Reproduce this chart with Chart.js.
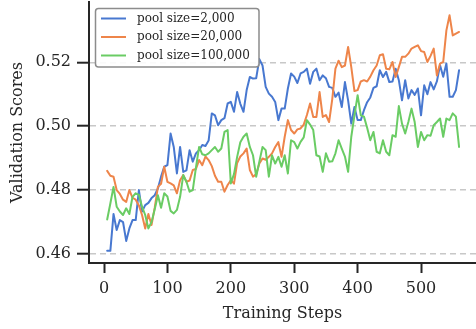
<!DOCTYPE html>
<html>
<head>
<meta charset="utf-8">
<script src="https://cdn.jsdelivr.net/npm/chart.js@4.4.1/dist/chart.umd.min.js"></script>
<style>
  html, body { margin: 0; padding: 0; background: #ffffff; }
  #wrap { width: 476px; height: 329px; position: relative; }
</style>
</head>
<body>
<div id="wrap"><canvas id="c" width="476" height="329"></canvas></div>
<script>
const steps = [5,10,15,20,25,30,35,40,45,50,55,60,65,70,75,80,85,90,95,100,
  105,110,115,120,125,130,135,140,145,150,155,160,165,170,175,180,185,190,195,200,
  205,210,215,220,225,230,235,240,245,250,255,260,265,270,275,280,285,290,295,300,
  305,310,315,320,325,330,335,340,345,350,355,360,365,370,375,380,385,390,395,400,
  405,410,415,420,425,430,435,440,445,450,455,460,465,470,475,480,485,490,495,500,
  505,510,515,520,525,530,535,540,545,550,555,560];

const pool2k = [0.4610,0.4610,0.4725,0.4675,0.4706,0.4700,0.4641,0.4680,0.4706,0.4706,
  0.4800,0.4733,0.4753,0.4760,0.4775,0.4784,0.4805,0.4842,0.4873,0.4878,
  0.4977,0.4935,0.4852,0.4935,0.4857,0.4862,0.4925,0.4889,0.4915,0.4925,
  0.4941,0.4938,0.4955,0.5040,0.5034,0.5003,0.5019,0.5025,0.5071,0.5076,
  0.5045,0.5107,0.5070,0.5045,0.5113,0.5154,0.5149,0.5150,0.5210,0.5190,
  0.5123,0.5102,0.5092,0.5076,0.5019,0.5055,0.5055,0.5118,0.5165,0.5155,
  0.5135,0.5165,0.5170,0.5180,0.5133,0.5170,0.5180,0.5144,0.5159,0.5150,
  0.5123,0.5120,0.5092,0.5105,0.5060,0.5138,0.5081,0.5008,0.5060,0.5019,
  0.5019,0.5050,0.5075,0.5090,0.5120,0.5125,0.5175,0.5154,0.5170,0.5138,
  0.5140,0.5180,0.5144,0.5081,0.5144,0.5087,0.5113,0.5098,0.5118,0.5034,
  0.5128,0.5100,0.5138,0.5115,0.5140,0.5191,0.5155,0.5196,0.5092,0.5092,
  0.5113,0.5175];

const pool20k = [0.4860,0.4845,0.4842,0.4800,0.4788,0.4770,0.4763,0.4800,0.4776,0.4770,
  0.4752,0.4722,0.4680,0.4725,0.4691,0.4745,0.4810,0.4820,0.4873,0.4826,
  0.4821,0.4815,0.4790,0.4831,0.4847,0.4826,0.4830,0.4863,0.4866,0.4894,
  0.4878,0.4905,0.4894,0.4875,0.4845,0.4826,0.4826,0.4795,0.4816,0.4831,
  0.4820,0.4885,0.4905,0.4915,0.4930,0.4863,0.4842,0.4850,0.4883,0.4899,
  0.4895,0.4904,0.4915,0.4935,0.4950,0.4904,0.4967,0.5019,0.4988,0.4977,
  0.4990,0.4993,0.5005,0.5035,0.5071,0.5029,0.5029,0.5107,0.5029,0.5035,
  0.5013,0.5085,0.5180,0.5205,0.5185,0.5190,0.5248,0.5185,0.5110,0.5113,
  0.5140,0.5144,0.5140,0.5155,0.5175,0.5190,0.5222,0.5225,0.5180,0.5178,
  0.5201,0.5154,0.5185,0.5217,0.5217,0.5227,0.5243,0.5248,0.5253,0.5235,
  0.5232,0.5201,0.5220,0.5243,0.5159,0.5196,0.5201,0.5300,0.5347,0.5284,
  0.5290,0.5295];

const pool100k = [0.4708,0.4758,0.4810,0.4748,0.4733,0.4722,0.4743,0.4725,0.4779,0.4790,
  0.4785,0.4748,0.4722,0.4680,0.4700,0.4740,0.4784,0.4745,0.4790,0.4780,
  0.4735,0.4727,0.4738,0.4779,0.4847,0.4826,0.4795,0.4800,0.4870,0.4935,
  0.4912,0.4909,0.4915,0.4925,0.4935,0.4920,0.4930,0.4982,0.4988,0.4821,
  0.4850,0.4904,0.4950,0.4967,0.4977,0.4935,0.4909,0.4842,0.4889,0.4935,
  0.4925,0.4842,0.4909,0.4883,0.4904,0.4873,0.4909,0.4852,0.4956,0.4950,
  0.4930,0.4951,0.4965,0.5019,0.5005,0.4988,0.4909,0.4905,0.4857,0.4915,
  0.4889,0.4890,0.4915,0.4956,0.4930,0.4905,0.4857,0.4967,0.5034,0.5097,
  0.5034,0.5030,0.4995,0.4956,0.4982,0.4920,0.4915,0.4956,0.4920,0.4909,
  0.4972,0.4967,0.5063,0.5008,0.4977,0.5013,0.5055,0.5013,0.4935,0.4982,
  0.4956,0.4972,0.4970,0.5003,0.5013,0.5024,0.4967,0.5024,0.5019,0.5040,
  0.5030,0.4935];

const seriesLabels = ['pool size=2,000', 'pool size=20,000', 'pool size=100,000'];
const seriesColors = ['#4878d0', '#ee854a', '#6acc64'];
const xTicks = [0, 100, 200, 300, 400, 500];
const yTicks = [0.46, 0.48, 0.50, 0.52];

const FONT = "'DejaVu Serif', 'Liberation Serif', serif";
const INK = '#262626';

const toPts = vals => vals.map((v, i) => ({ x: steps[i], y: v }));
const allSeries = [pool2k, pool20k, pool100k];

const legendBox = {
  id: 'legendBox',
  afterDatasetsDraw(chart) {
    const ctx = chart.ctx;
    ctx.save();
    const x0 = 95.5, y0 = 8.5, x1 = 259, y1 = 67;
    const r = 3;
    ctx.beginPath();
    ctx.moveTo(x0 + r, y0);
    ctx.lineTo(x1 - r, y0); ctx.quadraticCurveTo(x1, y0, x1, y0 + r);
    ctx.lineTo(x1, y1 - r); ctx.quadraticCurveTo(x1, y1, x1 - r, y1);
    ctx.lineTo(x0 + r, y1); ctx.quadraticCurveTo(x0, y1, x0, y1 - r);
    ctx.lineTo(x0, y0 + r); ctx.quadraticCurveTo(x0, y0, x0 + r, y0);
    ctx.closePath();
    ctx.fillStyle = 'rgba(255,255,255,0.9)';
    ctx.fill();
    ctx.lineWidth = 1.5;
    ctx.strokeStyle = '#8c8c8c';
    ctx.stroke();
    chart.data.datasets.forEach((ds, i) => {
      const y = 18.5 + i * 18.5;
      ctx.beginPath();
      ctx.moveTo(101, y); ctx.lineTo(126, y);
      ctx.lineWidth = 2;
      ctx.strokeStyle = ds.borderColor;
      ctx.stroke();
      ctx.fillStyle = INK;
      ctx.font = "12px " + FONT;
      ctx.textBaseline = 'middle';
      ctx.textAlign = 'left';
      ctx.fillText(ds.label, 137, y);
    });
    ctx.restore();
  }
};

new Chart(document.getElementById('c'), {
  type: 'line',
  data: {
    datasets: allSeries.map((vals, i) => ({
      label: seriesLabels[i],
      data: toPts(vals),
      borderColor: seriesColors[i],
      backgroundColor: seriesColors[i],
      borderWidth: 2,
      pointRadius: 0,
      tension: 0,
      borderJoinStyle: 'round',
      borderCapStyle: 'round',
      order: 2 - i
    }))
  },
  options: {
    responsive: false,
    animation: false,
    devicePixelRatio: 1,
    layout: { padding: { top: 2, right: 0, bottom: 0, left: 0 } },
    plugins: { legend: { display: false }, tooltip: { enabled: false } },
    scales: {
      x: {
        type: 'linear',
        min: -23.66,
        max: 586.7,
        afterBuildTicks: s => { s.ticks = xTicks.map(v => ({ value: v })); },
        afterFit: s => { s.height = 66; s.paddingLeft = 0; s.paddingRight = 0; },
        grid: { drawOnChartArea: false, drawTicks: true, tickLength: 10, tickWidth: 2, tickColor: INK },
        border: { display: true, color: INK, width: 2 },
        ticks: { color: INK, font: { family: FONT, size: 16 }, padding: 6, maxRotation: 0 },
        title: { display: true, text: 'Training Steps', color: INK, font: { family: FONT, size: 16 }, padding: { top: 0, bottom: 6 } }
      },
      y: {
        type: 'linear',
        min: 0.45718,
        max: 0.53887,
        afterBuildTicks: s => { s.ticks = yTicks.map(v => ({ value: v })); },
        afterFit: s => { s.width = 89; s.paddingTop = 0; s.paddingBottom = 0; },
        grid: { drawOnChartArea: true, color: '#c8c8c8', lineWidth: 1.4, drawTicks: true, tickLength: 12, tickWidth: 2, tickColor: INK, tickBorderDash: [] },
        border: { display: true, color: INK, width: 2, dash: [6, 4] },
        ticks: { color: INK, font: { family: FONT, size: 16 }, padding: 6, callback: v => v.toFixed(2) },
        title: { display: true, text: 'Validation Scores', color: INK, font: { family: FONT, size: 16 }, padding: { top: 8, bottom: 0 } }
      }
    }
  },
  plugins: [legendBox]
});
</script>
</body>
</html>
